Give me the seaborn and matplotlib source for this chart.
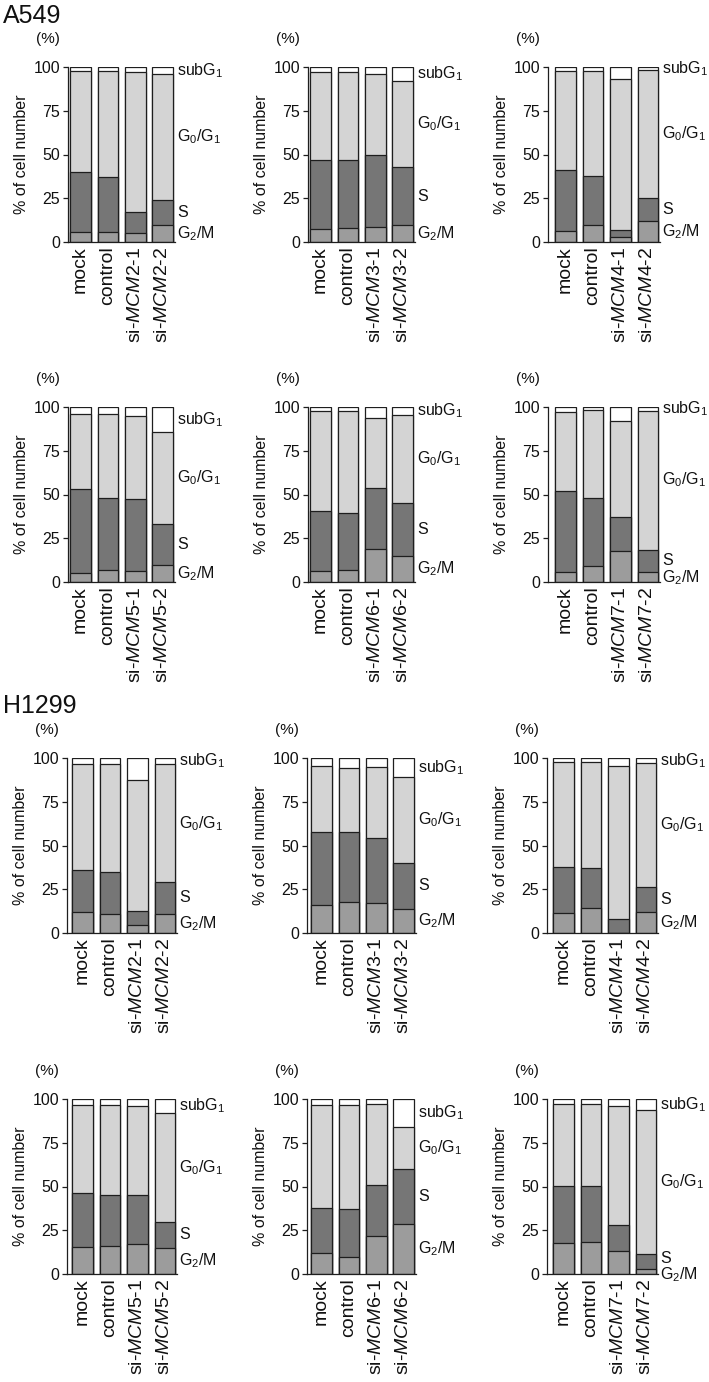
import numpy as np
import pandas as pd
import seaborn as sns
import matplotlib.pyplot as plt

sns.set_style("ticks")
plt.rcParams["font.family"] = ["Liberation Sans", "DejaVu Sans"]
plt.rcParams["mathtext.fontset"] = "custom"
plt.rcParams["mathtext.rm"] = "Liberation Sans"
plt.rcParams["mathtext.it"] = "Liberation Sans:italic"
plt.rcParams["mathtext.bf"] = "Liberation Sans:bold"
for key in ["text.color", "axes.labelcolor", "xtick.color", "ytick.color"]:
    plt.rcParams[key] = "#111111"

# categories
genes = ["MCM2", "MCM3", "MCM4", "MCM5", "MCM6", "MCM7"]
phases = ["G$_2$/M", "S", "G$_0$/G$_1$", "subG$_1$"]
phase_colors = ["#9c9c9c", "#767676", "#d4d4d4", "#ffffff"]

# % of cells per phase, one row per gene, columns: mock, control, si-1, si-2
a549_g2m = [[6, 6, 5, 10], [7.5, 8, 8.5, 9.5], [6.5, 9.5, 3, 12],
            [5, 7, 6.5, 9.5], [6.5, 7, 19, 15], [6, 9, 17.5, 5.5]]
a549_s = [[34, 31, 12, 14], [39.5, 39, 41.5, 33.5], [34.5, 28.5, 4, 13],
          [48, 41, 41, 23.5], [34, 32.5, 35, 30], [46, 39, 19.5, 13]]
a549_g0g1 = [[58, 61, 80, 72], [50, 50, 46, 49], [57, 60, 86, 73.5],
             [43, 48, 47.5, 53], [57.5, 58.5, 40, 50.5], [45, 50.5, 55, 79.5]]
a549_subg1 = [[2, 2, 3, 4], [3, 3, 4, 8], [2, 2, 7, 1.5],
              [4, 4, 5, 14], [2, 2, 6, 4.5], [3, 1.5, 8, 2]]

h1299_g2m = [[12, 11, 4.5, 11], [16, 17.5, 17, 14], [11.5, 14.5, 0, 12],
             [15.5, 16, 17, 15], [12, 10, 21.5, 28.5], [17.5, 18.5, 13, 3]]
h1299_s = [[24, 24, 8, 18], [42, 40.5, 37.5, 26], [26.5, 22.5, 8, 14.5],
           [31, 29, 28, 15], [26, 27, 29.5, 31.5], [33, 32, 15, 8.5]]
h1299_g0g1 = [[60.5, 61.5, 75, 67.5], [37.5, 36.5, 40.5, 49], [59.5, 60.5, 87.5, 70.5],
              [50, 51.5, 51, 62], [58.5, 59.5, 46, 24], [46.5, 46.5, 68, 82.5]]
h1299_subg1 = [[3.5, 3.5, 12.5, 3.5], [4.5, 5.5, 5, 11], [2.5, 2.5, 4.5, 3],
               [3.5, 3.5, 4, 8], [3.5, 3.5, 3, 16], [3, 3, 4, 6]]

cells = {
    "A549": (a549_g2m, a549_s, a549_g0g1, a549_subg1),
    "H1299": (h1299_g2m, h1299_s, h1299_g0g1, h1299_subg1),
}

# layout in pixels
W, H = 709, 1382
unit = 27.5
ax_h = 175
col_left = [68, 308, 548]
row_top = {"A549": [67, 407], "H1299": [758, 1099]}
first_gap = {"A549": [2, 2, 7], "H1299": [5, 4, 6]}
header_y = {"A549": 16, "H1299": 706}

fig = plt.figure(figsize=(W / 100, H / 100), dpi=100)
edge = "#1e1e1e"

for cell, (g2m, s, g0g1, subg1) in cells.items():
    fig.text(3 / W, 1 - header_y[cell] / H, cell, fontsize=18, ha="left", va="center")
    for i, gene in enumerate(genes):
        r, c = divmod(i, 3)
        x0 = -0.375 - first_gap[cell][c] / unit
        x1 = 3.375 + 1.5 / unit
        left = col_left[c] - (1 if cell == "H1299" else 0)
        top = row_top[cell][r]
        ax = fig.add_axes([left / W, 1 - (top + ax_h) / H, (x1 - x0) * unit / W, ax_h / H])

        labels = ["mock", "control", f"si-$\\mathit{{{gene}}}$-1", f"si-$\\mathit{{{gene}}}$-2"]
        df = pd.DataFrame({"label": labels, "G2M": g2m[i], "S": s[i],
                           "G0G1": g0g1[i], "subG1": subg1[i]})
        cum = df[["G2M", "S", "G0G1", "subG1"]].cumsum(axis=1)
        cols = list(cum.columns)

        # draw from the top layer down so each boundary shows
        for k in reversed(range(4)):
            sns.barplot(x=df["label"], y=cum[cols[k]], color=phase_colors[k], width=0.75,
                        saturation=1, edgecolor=edge, linewidth=0.9, ax=ax)

        ax.set_xlim(x0, x1)
        ax.set_ylim(0, 100)
        ax.set_yticks([0, 25, 50, 75, 100])
        ax.set_xlabel("")
        ax.set_ylabel("% of cell number", fontsize=11.5, labelpad=3)
        ax.tick_params(axis="y", length=3.6, width=0.9, color=edge, labelsize=11.5, pad=2)
        ax.tick_params(axis="x", length=0, labelsize=14, rotation=90, pad=3)
        for sp in ["left", "bottom"]:
            ax.spines[sp].set_linewidth(0.9)
            ax.spines[sp].set_color(edge)
        sns.despine(ax=ax)

        # phase labels beside the last bar, spread apart when crowded
        last = cum.iloc[3].values
        bottoms = np.concatenate([[0], last[:-1]])
        pos = list((bottoms + last) / 2)
        min_sep = 9.5
        for k in range(1, 4):
            diff = pos[k] - pos[k - 1]
            if diff < min_sep:
                d = min_sep - diff
                pos[k - 1] -= d / 2
                pos[k] += d / 2
        for k in range(4):
            ax.text(x1 + 0.08, pos[k], phases[k], ha="left", va="center",
                    fontsize=11.5, clip_on=False)

        fig.text((left - 20) / W, 1 - (top - 28) / H, "(%)", fontsize=11,
                 ha="center", va="center")

fig.savefig("out.png", dpi=100)
